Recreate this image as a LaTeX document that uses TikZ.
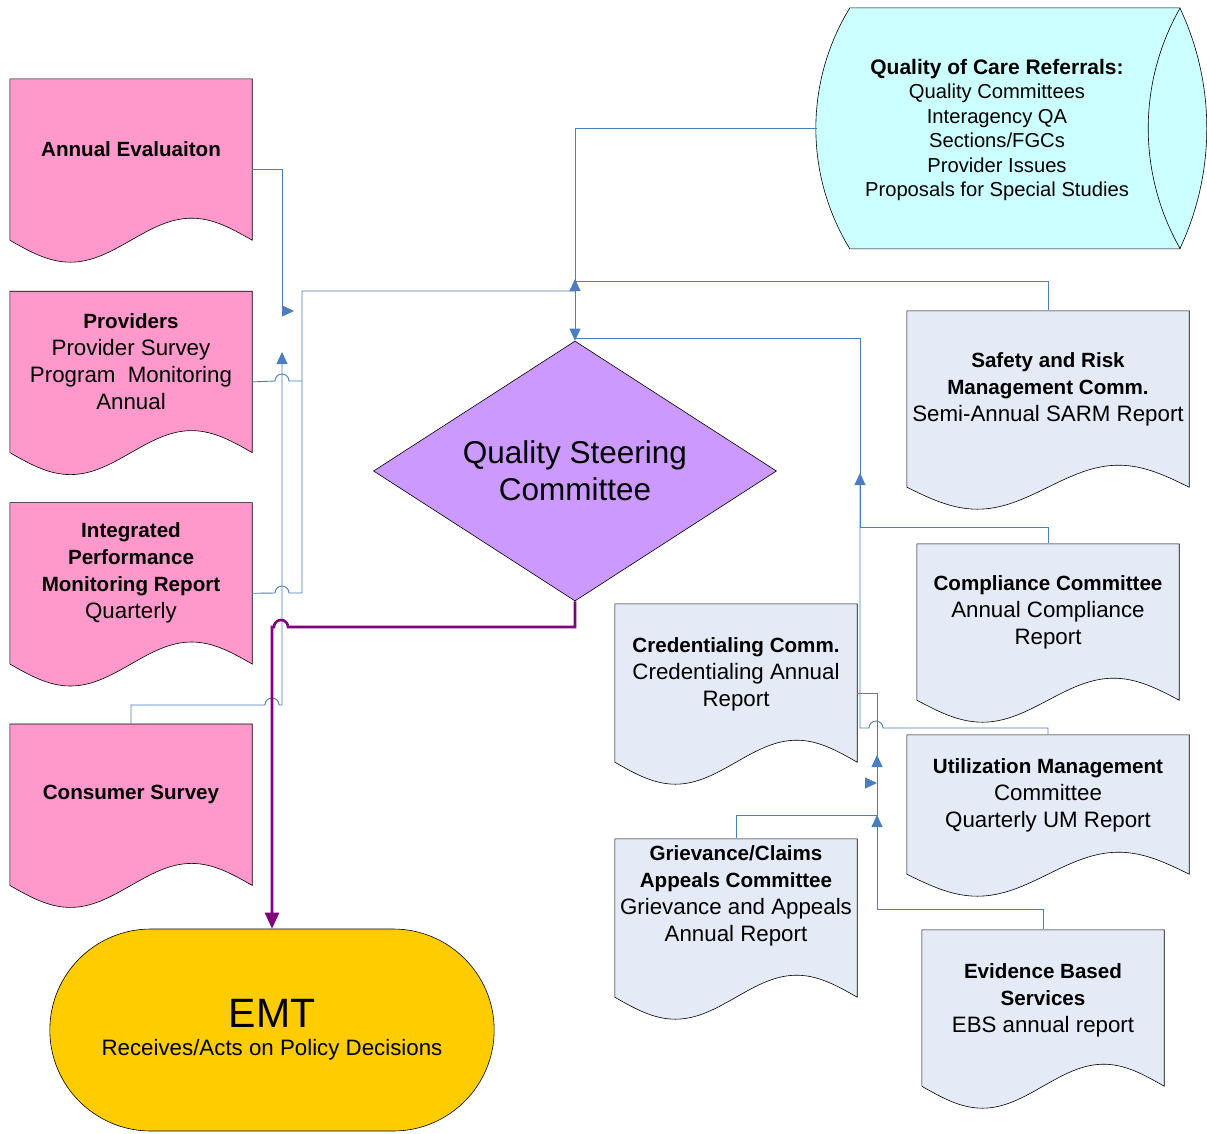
\documentclass[tikz,border=0pt]{standalone}
\usepackage{fontspec}
\setmainfont{Liberation Sans}
\usetikzlibrary{shapes.geometric, shapes.misc, positioning, backgrounds, arrows.meta, calc}

\definecolor{pinkfill}{RGB}{255,153,204}
\definecolor{greyfill}{RGB}{228,234,246}
\definecolor{cyanfill}{RGB}{204,255,255}
\definecolor{lilacfill}{RGB}{204,153,255}
\definecolor{emtfill}{RGB}{255,204,0}
\definecolor{flowblue}{RGB}{74,126,193}
\definecolor{policyline}{RGB}{128,0,128}

\newcommand{\docfont}{\fontsize{22.3}{27}\selectfont}
\newcommand{\hd}[1]{{\fontsize{20.6}{27}\selectfont\bfseries #1}}
% wavy bottom of a document node: [extra depth]{node}{fill}
\newcommand{\docwave}[3][20]{%
  \path[docline, fill=#3] let \p1=(#2.north west), \p2=(#2.south east), \n1={(\x2-\x1)/4} in
    (\p1) -- (\x1,\y2-#1) sin ++(\n1,-22) cos ++(\n1,22) sin ++(\n1,22) cos ++(\n1,-22) -- (\x2,\y1) -- cycle;}

\begin{document}
\begin{tikzpicture}[x=1pt, y=1pt, >={Triangle[length=12pt,width=11pt]},
  doc/.style={minimum width=242pt, minimum height=#1, inner sep=0pt, align=center, font=\docfont},
  docline/.style={draw=black, line width=0.6pt},
  flow/.style={draw=flowblue, line width=0.9pt},
  policy/.style={draw=policyline, line width=2.6pt},
  steer/.style={diamond, draw, line width=0.6pt, fill=lilacfill, aspect=1.55, inner sep=0pt,
    minimum width=403pt, minimum height=260pt, align=center, font=\fontsize{31.5}{37}\selectfont},
  emtbox/.style={rounded rectangle, draw, line width=0.6pt, fill=emtfill, minimum width=451pt,
    minimum height=202pt, align=center, font=\fontsize{22.3}{25}\selectfont},
  referral/.style={minimum width=360pt, minimum height=241pt, inner sep=0pt, align=center,
    font=\fontsize{20.2}{24.5}\selectfont}]
  \useasboundingbox (0,0) rectangle (1207,-1133);

  % sources on the left
  \node[doc=141pt] (annual) at (131,-149.5) {\hd{Annual Evaluaiton}};
  \node[doc=141pt, below=71pt of annual] (providers) {\hd{Providers}\\Provider Survey\\Program~~Monitoring\\Annual};
  \node[doc=141pt, below=70pt of providers] (integrated) {\hd{Integrated}\\\hd{Performance}\\\hd{Monitoring Report}\\Quarterly};
  \node[doc=141pt, below=80pt of integrated] (consumer) {\hd{Consumer Survey}};

  \node[steer] (qsc) at (575,-471) {Quality Steering\\Committee};
  \node[emtbox] (emt) at (272,-1030) {{\fontsize{41}{44}\selectfont EMT}\\[3pt]Receives/Acts on Policy Decisions};

  \node[referral] (qoc) at (997,-130) {{\fontsize{21}{24.5}\selectfont\bfseries Quality of Care Referrals:}\\Quality Committees\\Interagency QA\\Sections/FGCs\\Provider Issues\\Proposals for Special Studies};

  % committees on the right
  \node[doc=156pt, minimum width=282pt] (safety) at (1048,-389) {\hd{Safety and Risk}\\\hd{Management Comm.}\\Semi-Annual SARM Report};
  \node[doc=136pt, minimum width=262pt] (compliance) at (1048,-612) {\hd{Compliance Committee}\\Annual Compliance\\Report};
  \node[doc=140pt] (cred) at (736,-674) {\hd{Credentialing Comm.}\\Credentialing Annual\\Report};
  \node[doc=121pt, minimum width=282pt] (um) at (1048,-795.5) {\hd{Utilization Management}\\Committee\\Quarterly UM Report};
  \node[doc=113pt] (griev) at (736,-895.5) {\hd{Grievance/Claims}\\\hd{Appeals Committee}\\Grievance and Appeals\\Annual Report};
  \node[doc=140pt] (ebs) at (1043,-1000) {\hd{Evidence Based}\\\hd{Services}\\EBS annual report};

  \begin{pgfonlayer}{background}
    \docwave{annual}{pinkfill}
    \docwave{providers}{pinkfill}
    \docwave{integrated}{pinkfill}
    \docwave{consumer}{pinkfill}
    \docwave[20]{safety}{greyfill}
    \docwave[20]{compliance}{greyfill}
    \docwave[18]{cred}{greyfill}
    \docwave[18]{um}{greyfill}
    \docwave[45]{griev}{greyfill}
    \docwave[16]{ebs}{greyfill}
    \path[docline, fill=cyanfill] ($(qoc.north west)+(33,1.5)$) -- ++(330,0)
      arc[start angle=25.26, end angle=-25.26, radius=282.4] -- ++(-330,0)
      arc[start angle=211.5, end angle=148.5, radius=230.5] -- cycle;
    \draw[docline] ($(qoc.north east)+(3,1.5)$) arc[start angle=150.26, end angle=209.74, radius=242.9];
  \end{pgfonlayer}

  \draw[flow,->] ([yshift=-20pt]annual.east) -| (282,-311) -- (294,-311);
  \draw[flow] ([yshift=-20pt]providers.east) -- (275,-381) arc[start angle=180, end angle=0, radius=7] -- (302,-381);
  \draw[flow,->] ([yshift=-20pt]integrated.east) -- (275,-593) arc[start angle=180, end angle=0, radius=7]
    -- (302,-593) |- (575,-291) -- (575,-279);
  \draw[flow,->] (consumer.north) |- (265,-705) arc[start angle=180, end angle=0, radius=7] -- (282,-705) -- (282,-352);

  \draw[flow,->] ([yshift=1.5pt]qoc.west) -| (qsc.north);
  \draw[flow] ([yshift=1pt]safety.north) |- (575,-281);
  \draw[flow] ([yshift=1pt]compliance.north) |- (860,-527) |- (575,-338);
  \draw[flow,->] ([yshift=1pt]um.north) |- (883,-728) arc[start angle=0, end angle=180, radius=7] -- (860,-728) -- (860,-473);
  \draw[flow] ([yshift=-19pt]cred.east) -| (877,-783) coordinate (credjoin);
  \draw[flow,->] ([xshift=-12pt]credjoin) -- (credjoin);
  \draw[flow,->] ([yshift=1pt]griev.north) |- (877,-815) -- (877,-755);
  \draw[flow,->] ([yshift=1pt]ebs.north) |- (877,-909) -- (877,-815);

  \draw[policy,-{Triangle[length=16pt,width=14pt]}] (qsc.south) |- (288,-627)
    arc[start angle=0, end angle=180, radius=7] -- (272,-627) -- (emt.north);
\end{tikzpicture}
\end{document}
